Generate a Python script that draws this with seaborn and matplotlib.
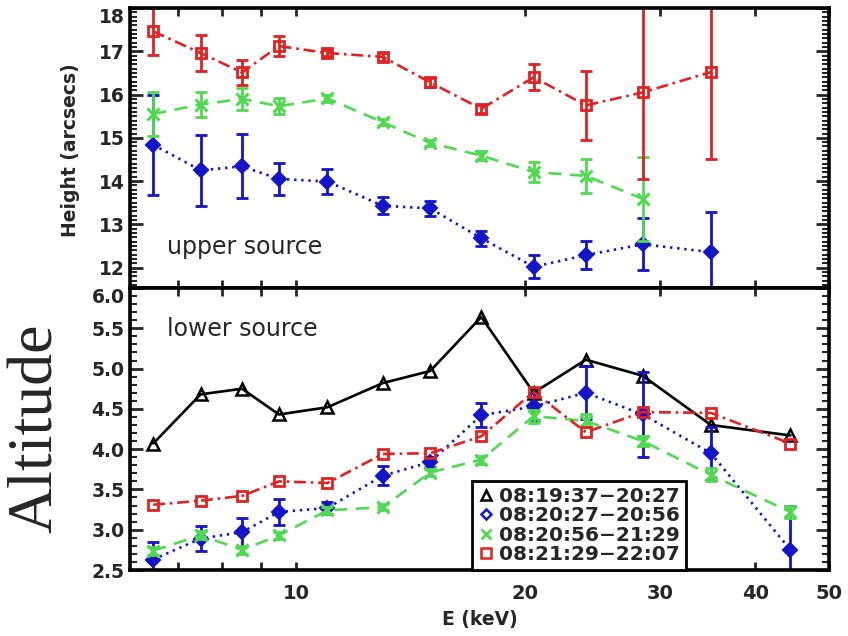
import numpy as np
import pandas as pd
import matplotlib
matplotlib.use("Agg")
import matplotlib.pyplot as plt
import seaborn as sns
from matplotlib.lines import Line2D
from matplotlib.ticker import FixedLocator, FuncFormatter, MultipleLocator, NullLocator

# ---------------- data ----------------
energy = [6.5, 7.5, 8.5, 9.5, 11.0, 13.0, 15.0, 17.5, 20.5, 24.0, 28.5, 35.0, 44.5]

interval_labels = ["08:19:37\u221220:27", "08:20:27\u221220:56",
                   "08:20:56\u221221:29", "08:21:29\u221222:07"]

# upper source (arcsec)
upper_blue = [14.84, 14.25, 14.34, 14.05, 13.99, 13.43, 13.37, 12.68, 12.02, 12.29, 12.54, 12.36]
upper_blue_err = [1.16, 0.82, 0.74, 0.37, 0.29, 0.20, 0.17, 0.17, 0.27, 0.33, 0.60, 0.92]
upper_green = [15.55, 15.77, 15.90, 15.73, 15.91, 15.36, 14.88, 14.59, 14.21, 14.12, 13.59]
upper_green_err = [0.50, 0.30, 0.25, 0.18, 0.08, 0.07, 0.07, 0.10, 0.23, 0.40, 0.97]
upper_red = [17.46, 16.96, 16.51, 17.12, 16.96, 16.87, 16.28, 15.67, 16.40, 15.75, 16.05, 16.52]
upper_red_err = [0.55, 0.42, 0.28, 0.24, 0.08, 0.10, 0.10, 0.10, 0.30, 0.80, 2.00, 2.00]

# lower source (altitude)
lower_black = [4.07, 4.68, 4.75, 4.43, 4.52, 4.82, 4.97, 5.64, 4.70, 5.11, 4.91, 4.30, 4.17]
lower_blue = [2.63, 2.89, 2.97, 3.22, 3.27, 3.67, 3.84, 4.42, 4.53, 4.70, 4.43, 3.95, 2.75]
lower_blue_err = [0.22, 0.16, 0.17, 0.16, 0.07, 0.12, 0.06, 0.15, 0.17, 0.33, 0.53, 0.33, 0.55]
lower_green = [2.74, 2.93, 2.75, 2.93, 3.24, 3.28, 3.71, 3.87, 4.41, 4.35, 4.10, 3.68, 3.22]
lower_green_err = [0.05, 0.05, 0.05, 0.04, 0.04, 0.04, 0.04, 0.05, 0.08, 0.08, 0.06, 0.08, 0.08]
lower_red = [3.31, 3.36, 3.42, 3.60, 3.58, 3.94, 3.95, 4.16, 4.71, 4.21, 4.46, 4.45, 4.07]

# ---------------- style ----------------
sns.set_style("ticks")
plt.rcParams["font.family"] = ["DejaVu Sans"]
plt.rcParams["font.weight"] = "bold"

BLACK = "#000000"
BLUE = "#1414c8"
GREEN = "#52d952"
RED = "#e02222"

LS_BLACK = "-"
LS_BLUE = (0, (0.9, 1.8))
LS_GREEN = (0, (5.0, 3.2))
LS_RED = (0, (4.5, 1.8, 1.0, 1.8))

fig = plt.figure(figsize=(8.48, 6.36), dpi=100)
W, H = 848, 636
left, right = 130 / W, 829 / W
ax_top = fig.add_axes([left, (H - 288) / H, right - left, (288 - 8) / H])
ax_bot = fig.add_axes([left, (H - 570) / H, right - left, (570 - 288) / H])

for ax in (ax_top, ax_bot):
    ax.set_xscale("log")


def draw(ax, x, y, err, color, ls, marker, ms, mfc, mew):
    xs = x[:len(y)]
    df = pd.DataFrame({"E": xs, "v": y})
    sns.lineplot(data=df, x="E", y="v", ax=ax, color=color, linestyle=ls,
                 linewidth=1.9, marker=marker, markersize=ms,
                 markerfacecolor=mfc, markeredgecolor=color, markeredgewidth=mew,
                 sort=False, errorbar=None, legend=False)
    if err is not None:
        ax.errorbar(xs, y, yerr=err, fmt="none", ecolor=color,
                    elinewidth=2.0, capsize=4, capthick=2.0)


# upper panel
draw(ax_top, energy, upper_blue, upper_blue_err, BLUE, LS_BLUE, "D", 7, BLUE, 1.5)
draw(ax_top, energy, upper_green, upper_green_err, GREEN, LS_GREEN, "x", 8, GREEN, 2.2)
draw(ax_top, energy, upper_red, upper_red_err, RED, LS_RED, "s", 7.5, "none", 2.0)

# lower panel
draw(ax_bot, energy, lower_black, None, BLACK, LS_BLACK, "^", 9, "none", 1.8)
draw(ax_bot, energy, lower_blue, lower_blue_err, BLUE, LS_BLUE, "D", 7, BLUE, 1.5)
draw(ax_bot, energy, lower_green, lower_green_err, GREEN, LS_GREEN, "x", 8, GREEN, 2.2)
draw(ax_bot, energy, lower_red, None, RED, LS_RED, "s", 7.5, "none", 2.0)

# ---------------- axes ----------------
xticks = [7, 8, 9, 10, 20, 30, 40, 50]
labelled = {10: "10", 20: "20", 30: "30", 40: "40", 50: "50"}
for ax in (ax_top, ax_bot):
    ax.set_xlim(6.06, 50)
    ax.xaxis.set_major_locator(FixedLocator(xticks))
    ax.xaxis.set_minor_locator(NullLocator())
    ax.yaxis.set_minor_locator(MultipleLocator(0.1))
    for s in ax.spines.values():
        s.set_linewidth(2.6)
        s.set_color("black")
    ax.tick_params(axis="x", which="both", direction="in", top=True, bottom=True,
                   length=6, width=2, labelsize=14, pad=10)
    ax.tick_params(axis="y", which="major", direction="in", left=True, right=True,
                   length=9.5, width=2, labelsize=13.5, pad=4)
    ax.tick_params(axis="y", which="minor", direction="in", left=True, right=True,
                   length=5, width=1.5)
    ax.set_xlabel("")
    ax.set_ylabel("")

ax_top.set_ylim(11.53, 18.0)
ax_top.yaxis.set_major_locator(FixedLocator([12, 13, 14, 15, 16, 17, 18]))
ax_top.yaxis.set_major_formatter(FuncFormatter(lambda v, p: f"{v:.0f}"))
ax_top.xaxis.set_major_formatter(FuncFormatter(lambda v, p: ""))

ax_bot.set_ylim(2.5, 6.0)
ax_bot.yaxis.set_major_locator(FixedLocator([2.5, 3.0, 3.5, 4.0, 4.5, 5.0, 5.5, 6.0]))
ax_bot.yaxis.set_major_formatter(FuncFormatter(lambda v, p: f"{v:.1f}"))
ax_bot.xaxis.set_major_formatter(
    FuncFormatter(lambda v, p: labelled.get(int(round(v)), "")))
ax_bot.set_xlabel("E (keV)", fontsize=13.5, fontweight="bold", labelpad=5)

for ax in (ax_top, ax_bot):
    ticks = ax.yaxis.get_major_ticks()
    for t in ticks:
        t.label1.set_fontweight("bold")
    ticks[-1].label1.set_verticalalignment("top")
for lab in ax_bot.get_xticklabels():
    lab.set_fontweight("bold")

ax_top.text(0.053, 0.145, "upper source", transform=ax_top.transAxes,
            fontsize=17, fontweight="normal", ha="left", va="center")
ax_bot.text(0.053, 0.855, "lower source", transform=ax_bot.transAxes,
            fontsize=17, fontweight="normal", ha="left", va="center")

fig.text(70 / W, (H - 150) / H, "Height (arcsecs)", rotation=90,
         ha="center", va="center", fontsize=13.5, fontweight="bold")
fig.text(37 / W, (H - 428) / H, "Altitude", rotation=90, ha="center", va="center",
         fontsize=46, fontweight="normal", family=["Liberation Serif", "DejaVu Serif"])

# legend
handles = [
    Line2D([], [], linestyle="none", marker="^", ms=7, mfc="none", mec=BLACK, mew=1.8),
    Line2D([], [], linestyle="none", marker="D", ms=5.5, mfc="none", mec=BLUE, mew=1.8),
    Line2D([], [], linestyle="none", marker="x", ms=6.5, mec=GREEN, mew=2.0),
    Line2D([], [], linestyle="none", marker="s", ms=7, mfc="none", mec=RED, mew=1.8),
]
leg = ax_bot.legend(handles, interval_labels, loc="lower left",
                    bbox_to_anchor=(0.489, 0.0), borderaxespad=0.0,
                    frameon=True, fancybox=False, edgecolor="black",
                    handlelength=0.8, handletextpad=0.25, labelspacing=0.02,
                    borderpad=0.3, prop={"size": 14.5, "weight": "bold"})
leg.get_frame().set_linewidth(2.0)
leg.get_frame().set_alpha(1.0)

fig.savefig("out.png", dpi=100, facecolor="white")
